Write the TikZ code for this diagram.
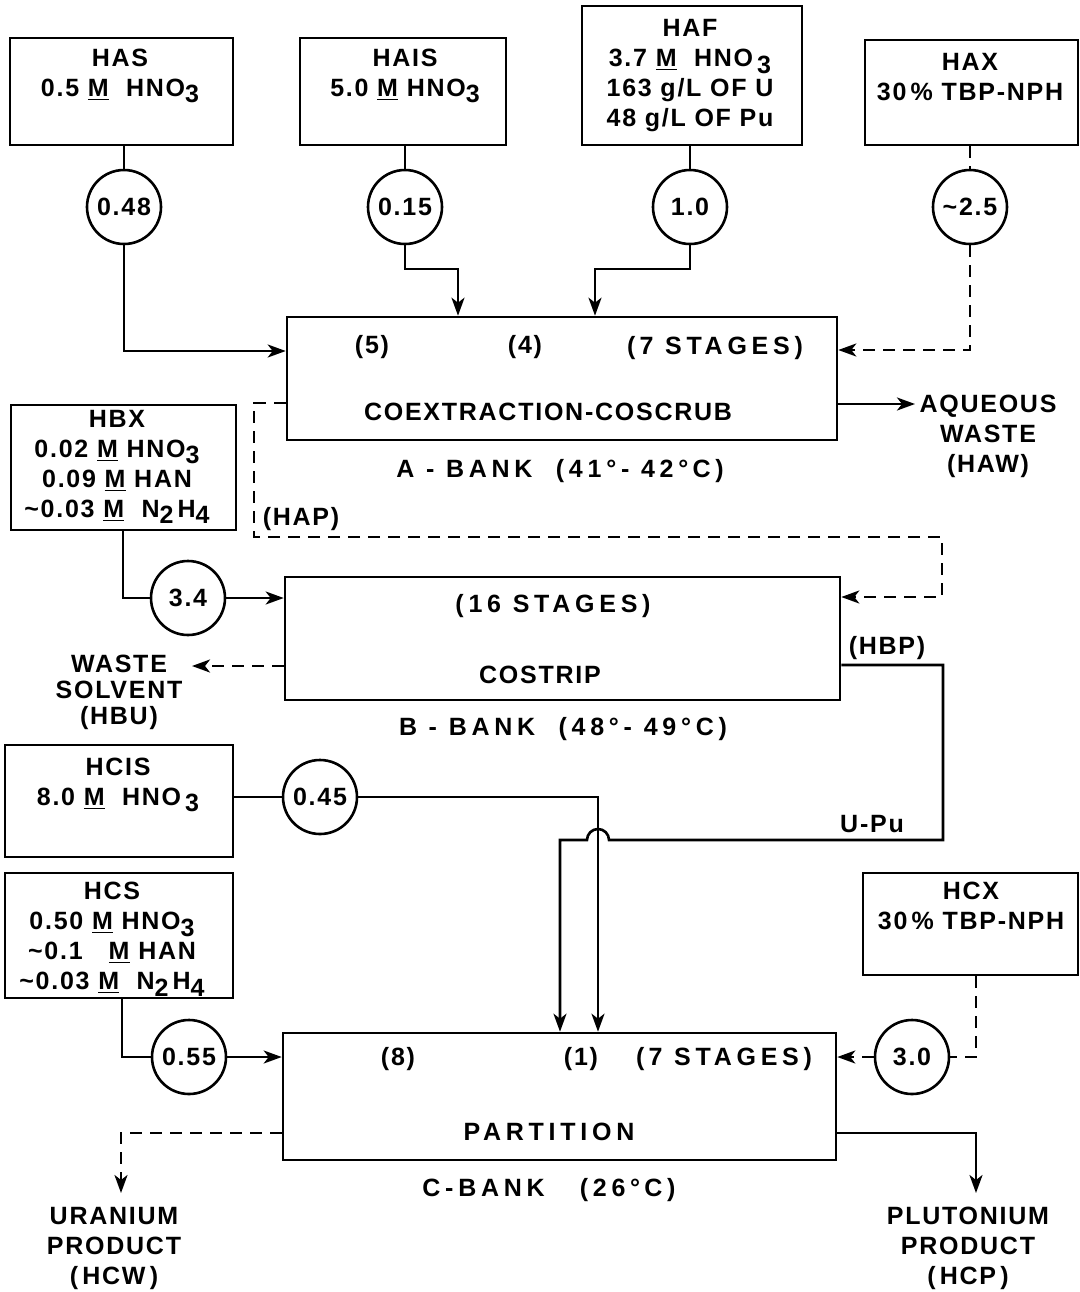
\documentclass[tikz,border=0pt]{standalone}
\usepackage{fontspec}
\setmainfont{Liberation Sans}[LetterSpace=7]
\usetikzlibrary{fit,arrows.meta}
\newcommand{\mysub}[1]{\raisebox{-0.5ex}{#1}}
\newcommand{\Mu}{\underline{M}}
\newcommand{\tld}{\textasciitilde}
\begin{document}
\begin{tikzpicture}[x=0.5pt,y=-0.5pt,
  every node/.style={font=\fontsize{12.5pt}{15pt}\selectfont\bfseries},
  box/.style={draw, line width=1.3pt, inner sep=0pt, rectangle},
  circ/.style={draw, circle, line width=1.3pt, minimum size=37pt, inner sep=0pt},
  ln/.style={line width=1.3pt},
  arr/.style={ln, -{Stealth[length=9pt,width=6.5pt,inset=2.5pt]}},
  dsh/.style={dash pattern=on 6pt off 4pt},
  txt/.style={align=center, inner sep=0pt},
  wide/.style={txt, font=\fontsize{12.5pt}{15pt}\selectfont\bfseries\addfontfeatures{LetterSpace=19}}]
\useasboundingbox (0,0) rectangle (1080,1292);

% ---- feed boxes ----
\node[box, fit={(10,38)(233,145)}] (has) {};
\node[txt] (hasT) at (120,76) {HAS\\0.5 \Mu\ \ HNO\mysub{3}};
\node[box, fit={(300,38)(506,145)}] (hais) {};
\node[txt] (haisT) at (405,76) {HAIS\\5.0 \Mu\ HNO\mysub{3}};
\node[box, fit={(582,6)(802,145)}] (haf) {};
\node[txt] (hafT) at (690,76) {HAF\\3.7 \Mu\ \ HNO\mysub{\,3}\\163 g/L OF U\\48 g/L OF Pu};
\node[box, fit={(865,40)(1078,145)}] (hax) {};
\node[txt] (haxT) at (970,77) {HAX\\30\,\% TBP-NPH};

\node[box, fit={(11,405)(236,530)}] (hbx) {};
\node[txt] (hbxT) at (117,467) {HBX\\0.02 \Mu\ HNO\mysub{3}\\0.09 \Mu\ HAN\\\tld 0.03 \Mu\ \ N\mysub{2}\,H\mysub{4}};

\node[box, fit={(5,745)(233,857)}] (hcis) {};
\node[txt] (hcisT) at (118,785) {HCIS\\8.0 \Mu\ \ HNO\mysub{\,3}};

\node[box, fit={(5,873)(233,998)}] (hcs) {};
\node[txt] (hcsT) at (112,939) {HCS\\0.50 \Mu\ HNO\mysub{3}\\\tld 0.1\ \ \ \Mu\ HAN\\\tld 0.03 \Mu\ \ N\mysub{2}\,H\mysub{4}};

\node[box, fit={(863,873)(1078,975)}] (hcx) {};
\node[txt] (hcxT) at (971,906) {HCX\\30\,\% TBP-NPH};

% ---- banks ----
\node[box, fit={(287,317)(837,440)}] (abank) {};
\node[txt] (a5) at (372,347) {(5)};
\node[txt] (a4) at (525,347) {(4)};
\node[wide] (a7) at (715,348) {(\,7 STAGES)};
\node[txt] (acx) at (548,412) {COEXTRACTION-COSCRUB};
\node[wide] (alab) at (560,471) {A - BANK\ \ (41°- 42°\,C)};

\node[box, fit={(285,577)(840,700)}] (bbank) {};
\node[wide] (b16) at (553,606) {(16 STAGES)};
\node[txt] (bcs) at (540,675) {COSTRIP};
\node[wide] (blab) at (563,729) {B - BANK\ \ (48°- 49°C)};

\node[box, fit={(283,1033)(836,1160)}] (cbank) {};
\node[txt] (c8) at (398,1059) {(8)};
\node[txt] (c1) at (581,1059) {(1)};
\node[wide] (c7) at (724,1059) {(\,7 STAGES)};
\node[wide] (cpt) at (549,1132) {PARTITION};
\node[wide] (clab) at (549,1190) {C-BANK\ \ \ (26°\,C)};

% ---- flow circles ----
\node[circ] (q48) at (124,207) {0.48};
\node[circ] (q15) at (405,207) {0.15};
\node[circ] (q10) at (690,207) {1.0};
\node[circ] (q25) at (970,207) {\tld 2.5};
\node[circ] (q34) at (188,598) {3.4};
\node[circ] (q45) at (320,797) {0.45};
\node[circ] (q55) at (189,1057) {0.55};
\node[circ] (q30) at (912,1057) {3.0};

% ---- outside labels ----
\node[txt] (haw) at (988,436) {AQUEOUS\\WASTE\\(HAW)};
\node[txt] (hap) at (301,519) {(HAP)};
\node[txt] (hbp) at (887,648) {(HBP)};
\node[txt] (upu) at (872,824) {U-Pu};
\node[txt, font=\fontsize{12.5pt}{13pt}\selectfont\bfseries] (hbu) at (119,692) {WASTE\\SOLVENT\\(HBU)};
\node[txt] (hcw) at (114,1248) {URANIUM\\PRODUCT\\(\,HCW\,)};
\node[txt] (hcp) at (968,1248) {PLUTONIUM\\PRODUCT\\(\,HCP\,)};

% ---- coordinates ----
\coordinate (j1) at (458,269);
\coordinate (j2) at (595,269);
\coordinate (hawin) at (915,404);
\coordinate (h1) at (254,537);
\coordinate (h2) at (942,597);
\coordinate (hbuin) at (192,666);
\coordinate (u1) at (943,840);
\coordinate (u2) at (609,840);
\coordinate (u3) at (560,840);
\coordinate (ur) at (121,1193);
\coordinate (pu) at (976,1193);

% ---- A bank feeds ----
\draw[ln] (has.south -| q48) -- (q48);
\draw[arr] (q48.south) |- (abank.west |- 0,351);
\draw[ln] (hais.south -| q15) -- (q15);
\draw[arr] (q15.south) |- (j1) -- (j1 |- abank.north);
\draw[ln] (haf.south -| q10) -- (q10);
\draw[arr] (q10.south) |- (j2) -- (j2 |- abank.north);
\draw[ln, dsh] (hax.south -| q25) -- (q25);
\draw[arr, dsh] (q25.south) |- (abank.east |- 0,350);
\draw[arr] (abank.east |- hawin) -- (hawin);

% ---- HAP to B bank ----
\draw[arr, dsh] (abank.west |- 0,403) -| (h1) -| (h2) -- (bbank.east |- h2);

% ---- B bank ----
\draw[ln] (hbx.south -| 123,0) |- (q34);
\draw[arr] (q34) -- (bbank.west |- q34);
\draw[arr, dsh] (bbank.west |- hbuin) -- (hbuin);
\draw[arr] (bbank.east |- 0,665) -| (u1) -- (u2) arc[start angle=0, end angle=-180, radius=11] -- (u3) -- (u3 |- cbank.north);

% ---- C bank ----
\draw[ln] (hcis.east |- q45) -- (q45);
\draw[arr] (q45) -| (cbank.north -| 598,0);
\draw[ln] (hcs.south -| 122,0) |- (q55);
\draw[arr] (q55) -- (cbank.west |- q55);
\draw[ln, dsh] (hcx.south -| 976,0) |- (q30);
\draw[arr, dsh] (q30) -- (cbank.east |- q30);
\draw[arr, dsh] (cbank.west |- 0,1133) -| (ur);
\draw[arr] (cbank.east |- 0,1133) -| (pu);
\end{tikzpicture}
\end{document}
